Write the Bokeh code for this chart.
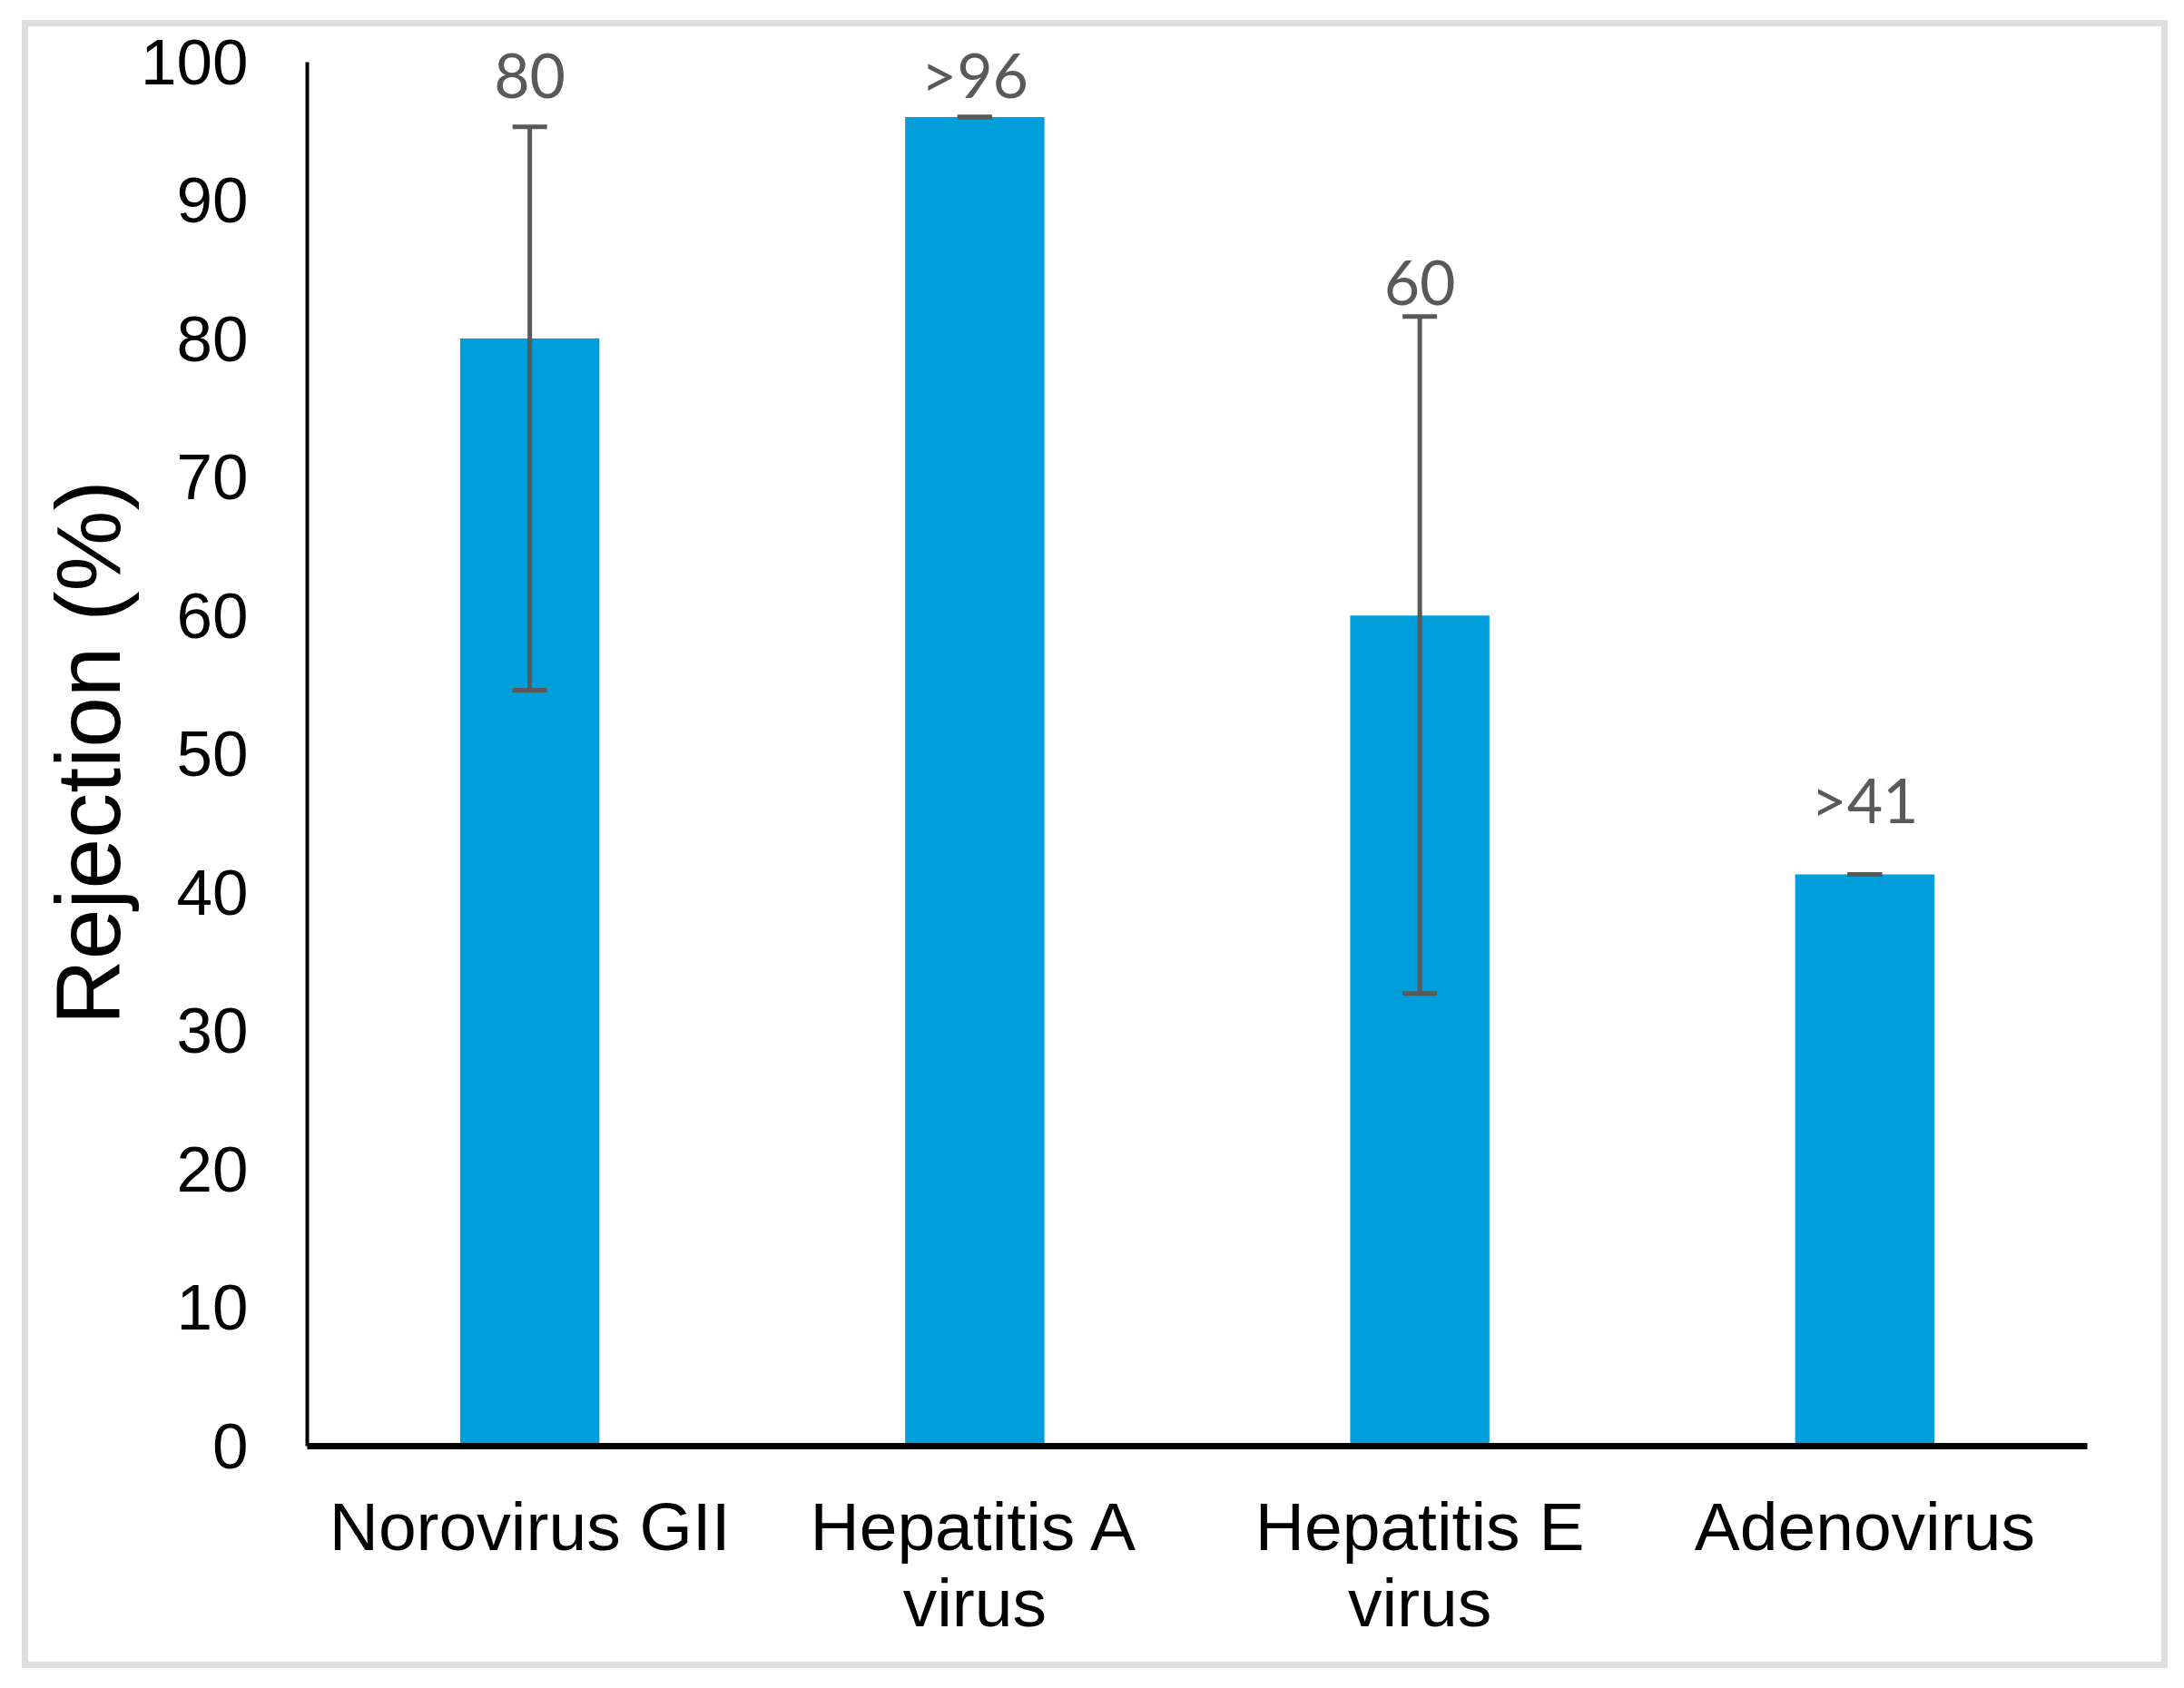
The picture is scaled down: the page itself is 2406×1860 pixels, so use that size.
from bokeh.plotting import figure
from bokeh.models import ColumnDataSource, Whisker, LabelSet, TeeHead, Range1d, FactorRange, InlineStyleSheet
from bokeh.core.properties import value
from bokeh.embed import file_html
from bokeh.resources import INLINE

# ---- data ----
categories = ["Norovirus GII", "Hepatitis A\nvirus", "Hepatitis E\nvirus", "Adenovirus"]
rejection = [80.0, 96.0, 60.0, 41.3]
err_upper = [95.3, 96.0, 81.6, 41.3]
err_lower = [54.6, 96.0, 32.7, 41.3]
label_text = ["80", ">96", "60", ">41"]
label_y = [97.4, 97.4, 82.4, 45.0]
y_ticks = list(range(0, 101, 10))

src = ColumnDataSource(dict(x=categories, top=rejection, upper=err_upper, lower=err_lower,
                            label_text=label_text, label_y=label_y))

border_css = InlineStyleSheet(css="""
:host { position: relative; }
:host::after {
  content: "";
  position: absolute;
  left: 24px; top: 22px; width: 2364px; height: 1816px;
  border: 7px solid #dedede;
  box-sizing: border-box;
  pointer-events: none;
  z-index: 10;
}
""")

p = figure(x_range=FactorRange(*categories), y_range=Range1d(0, 102),
           frame_width=1961, frame_height=1556,
           min_border_left=338, min_border_right=99, min_border_top=37, min_border_bottom=259,
           output_backend="svg", toolbar_location=None, tools="",
           stylesheets=[border_css])

p.background_fill_color = "white"
p.border_fill_color = "white"
p.outline_line_color = None
p.grid.visible = False

p.vbar(x="x", top="top", width=0.313, source=src, fill_color="#009EDB", line_color=None)

head_u = TeeHead(size=38, line_color="#595959", line_width=5)
head_l = TeeHead(size=38, line_color="#595959", line_width=5)
w = Whisker(base="x", upper="upper", lower="lower", source=src, level="overlay",
            line_color="#595959", line_width=5, upper_head=head_u, lower_head=head_l)
p.add_layout(w)

labels = LabelSet(x="x", y="label_y", text="label_text", source=src, level="overlay",
                  text_align="center", text_baseline="alphabetic",
                  text_font=value("Lato"), text_font_size="68px", text_color="#595959")
p.add_layout(labels)

# y axis
ya = p.yaxis[0]
ya.ticker = y_ticks
ya.bounds = (0, 100)
ya.major_tick_line_color = None
ya.minor_tick_line_color = None
ya.major_tick_out = 0
ya.major_tick_in = 0
ya.major_label_standoff = 65
ya.major_label_text_font = "Liberation Sans"
ya.major_label_text_font_size = "71px"
ya.major_label_text_color = "black"
ya.axis_line_color = "black"
ya.axis_line_width = 4
ya.axis_label = "Rejection (%) "
ya.axis_label_text_font = "Liberation Sans"
ya.axis_label_text_font_size = "100px"
ya.axis_label_text_font_style = "normal"
ya.axis_label_text_color = "black"
ya.axis_label_standoff = -1

# x axis
xa = p.xaxis[0]
xa.major_tick_line_color = None
xa.minor_tick_line_color = None
xa.major_tick_out = 0
xa.major_tick_in = 0
xa.major_label_standoff = 46
xa.major_label_text_font = "Liberation Sans"
xa.major_label_text_font_size = "75px"
xa.major_label_text_color = "black"
xa.major_label_text_line_height = 1.0
xa.axis_line_color = "black"
xa.axis_line_width = 7

open("out.html", "w").write(file_html(p, INLINE))
